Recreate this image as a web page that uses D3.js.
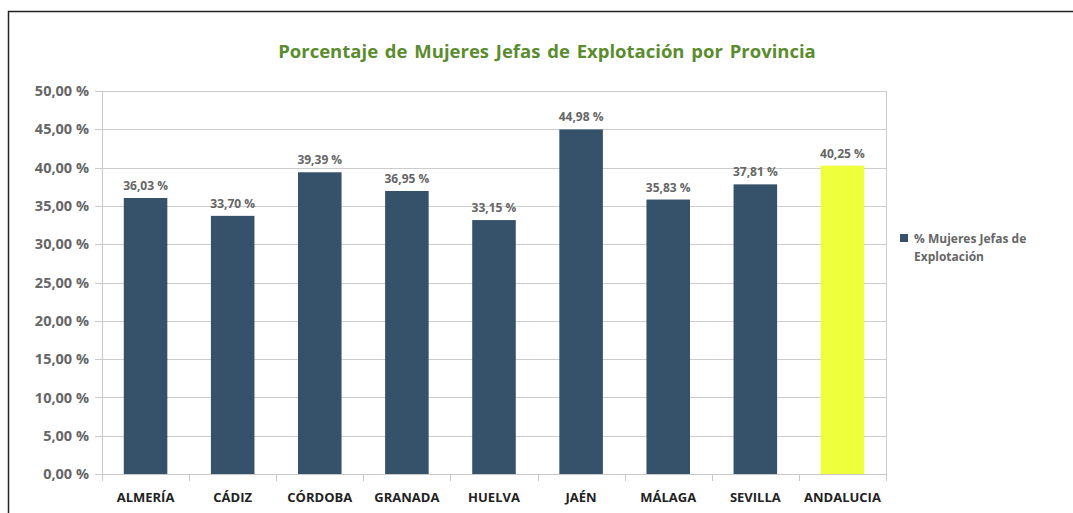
<!DOCTYPE html>
<meta charset="utf-8">
<style>
body { margin: 0; background: #fff; }
.grid line { stroke: #cccccc; shape-rendering: crispEdges; }
.y.axis text { fill: #666; font: bold 14.5px "Open Sans", sans-serif; }
.x.axis text { fill: #222; font: bold 13px "Open Sans", sans-serif; }
.axis path, .axis line { stroke: #c8c8c8; shape-rendering: crispEdges; }
.label { fill: #666; font: bold 12px "Open Sans", sans-serif; text-anchor: middle; }
</style>
<body>
<script src="https://d3js.org/d3.v7.min.js"></script>
<script>

var provincias = ["ALMERÍA", "CÁDIZ", "CÓRDOBA", "GRANADA", "HUELVA", "JAÉN", "MÁLAGA", "SEVILLA", "ANDALUCIA"];
var porcentajes = [36.03, 33.70, 39.39, 36.95, 33.15, 44.98, 35.83, 37.81, 40.25];
var yTicks = [0, 5, 10, 15, 20, 25, 30, 35, 40, 45, 50];
var serie = "% Mujeres Jefas de Explotación";

var W = 1073, H = 513;
var margin = {top: 91, right: 187, bottom: 39, left: 102},
    width = W - margin.left - margin.right,
    height = H - margin.top - margin.bottom;

var fmt = function(v) { return v.toFixed(2).replace(".", ",") + " %"; };

var svg = d3.select("body").append("svg")
    .attr("width", W)
    .attr("height", H);

// marco exterior
svg.append("path")
    .attr("d", "M8.5," + H + "V11.5H" + W)
    .attr("fill", "none")
    .attr("stroke", "#222")
    .attr("stroke-width", 1.5);

svg.append("text")
    .attr("x", 547)
    .attr("y", 58)
    .attr("text-anchor", "middle")
    .style("font", "bold 18.5px 'Open Sans', sans-serif")
    .style("word-spacing", "2px")
    .style("fill", "#5b8c2f")
    .text("Porcentaje de Mujeres Jefas de Explotación por Provincia");

var g = svg.append("g")
    .attr("transform", "translate(" + margin.left + "," + margin.top + ")");

var x = d3.scaleBand().domain(provincias).range([0, width]).paddingInner(0.5).paddingOuter(0.25);
var y = d3.scaleLinear().domain([0, 50]).range([height, 0]);

g.append("g")
    .attr("class", "grid")
  .selectAll("line")
    .data(yTicks)
  .enter().append("line")
    .attr("x1", 0)
    .attr("x2", width)
    .attr("y1", function(d) { return Math.round(y(d)) + 0.5; })
    .attr("y2", function(d) { return Math.round(y(d)) + 0.5; });

g.append("line")
    .attr("x1", width + 0.5).attr("x2", width + 0.5)
    .attr("y1", 0).attr("y2", height)
    .attr("stroke", "#cccccc");

var yAxis = d3.axisLeft(y).tickValues(yTicks).tickFormat(fmt).tickSize(7).tickPadding(6);
g.append("g")
    .attr("class", "y axis")
    .call(yAxis)
    .call(function(a) { a.select(".domain").attr("d", "M0.5,0V" + height); });

var xTicks = d3.range(provincias.length + 1).map(function(i) { return i * x.step(); });
var xa = g.append("g")
    .attr("class", "x axis")
    .attr("transform", "translate(0," + height + ")");
xa.append("line").attr("x1", 0).attr("x2", width).attr("y1", 0.5).attr("y2", 0.5);
xa.selectAll(".tk")
    .data(xTicks)
  .enter().append("line")
    .attr("class", "tk")
    .attr("x1", function(d) { return Math.round(d) + 0.5; })
    .attr("x2", function(d) { return Math.round(d) + 0.5; })
    .attr("y1", 0).attr("y2", 7);
xa.selectAll("text")
    .data(provincias)
  .enter().append("text")
    .attr("x", function(d) { return x(d) + x.bandwidth() / 2; })
    .attr("y", 28)
    .attr("text-anchor", "middle")
    .text(function(d) { return d; });

g.selectAll(".bar")
    .data(provincias)
  .enter().append("rect")
    .attr("class", "bar")
    .attr("x", function(d) { return x(d); })
    .attr("width", x.bandwidth())
    .attr("y", function(d, i) { return y(porcentajes[i]); })
    .attr("height", function(d, i) { return height - y(porcentajes[i]); })
    .attr("fill", function(d) { return d == "ANDALUCIA" ? "#eeff3c" : "#36516a"; });

g.selectAll(".label")
    .data(provincias)
  .enter().append("text")
    .attr("class", "label")
    .attr("x", function(d) { return x(d) + x.bandwidth() / 2; })
    .attr("y", function(d, i) { return y(porcentajes[i]) - 8; })
    .text(function(d, i) { return fmt(porcentajes[i]); });

var legend = svg.append("g").attr("transform", "translate(900,234)");
legend.append("rect").attr("width", 8).attr("height", 8).attr("fill", "#36516a");
legend.append("text")
    .style("font", "bold 12px 'Open Sans', sans-serif")
    .style("fill", "#666")
    .selectAll("tspan")
    .data(["% Mujeres Jefas de", "Explotación"])
  .enter().append("tspan")
    .attr("x", 14)
    .attr("y", function(d, i) { return 9 + i * 18; })
    .text(function(d) { return d; });

</script>
